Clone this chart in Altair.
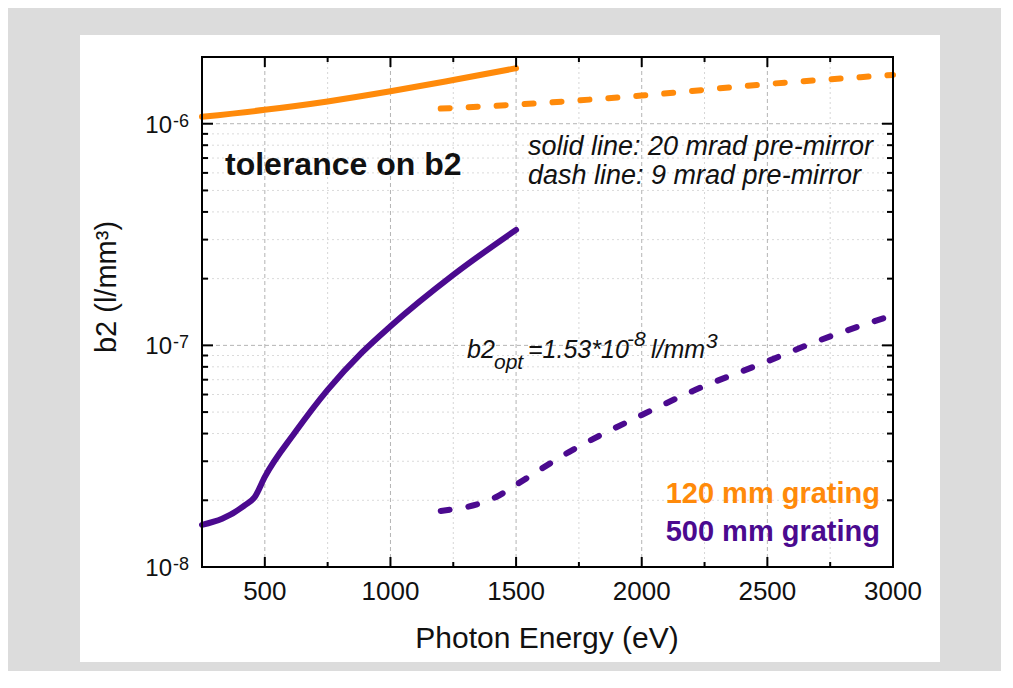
import altair as alt
import pandas as pd

# ---------------- data ----------------
E_ORANGE_SOLID = [250, 500, 750, 1000, 1250, 1500]
B2_ORANGE_SOLID = [1.075e-6, 1.155e-6, 1.26e-6, 1.40e-6, 1.575e-6, 1.78e-6]

E_ORANGE_DASH = [1200, 1500, 2000, 2500, 3000]
B2_ORANGE_DASH = [1.17e-6, 1.22e-6, 1.34e-6, 1.51e-6, 1.66e-6]

E_PURPLE_SOLID = [250, 330, 421, 460, 500, 619, 750, 885, 1000, 1250, 1500]
B2_PURPLE_SOLID = [1.55e-8, 1.65e-8, 1.9e-8, 2.07e-8, 2.55e-8, 4.03e-8, 6.3e-8,
                   9.25e-8, 1.22e-7, 2.08e-7, 3.32e-7]

E_PURPLE_DASH = [1200, 1421, 1500, 1710, 2000, 2214, 2492, 2675, 3000]
B2_PURPLE_DASH = [1.79e-8, 2.07e-8, 2.35e-8, 3.3e-8, 4.85e-8, 6.3e-8, 8.4e-8, 1.02e-7, 1.37e-7]

X_MAJOR = [500, 1000, 1500, 2000, 2500]
X_MINOR = [750, 1250, 1750, 2250, 2750]
X_LABELS = [500, 1000, 1500, 2000, 2500, 3000]
Y_MAJOR = [1e-8, 1e-7, 1e-6]
Y_MINOR = [2e-8, 3e-8, 4e-8, 5e-8, 6e-8, 7e-8, 8e-8, 9e-8,
           2e-7, 3e-7, 4e-7, 5e-7, 6e-7, 7e-7, 8e-7, 9e-7]
Y_EXPONENTS = ["-8", "-7", "-6"]

ORANGE = "#ff8a0a"
PURPLE = "#4b0a8f"
FONT = "Liberation Sans"

W, H = 691, 510
xs = alt.Scale(domain=[250, 3000], nice=False, zero=False)
ys = alt.Scale(type="log", domain=[1e-8, 2e-6], nice=False)

one = alt.Data(values=[{"k": 0}])

# white panel behind everything
panel = alt.Chart(one).mark_rect(color="white").encode(
    x=alt.value(-122), x2=alt.value(738), y=alt.value(-22), y2=alt.value(605)
)

xgrid_major = alt.Chart(pd.DataFrame({"v": X_MAJOR})).mark_rule(
    color="#b4b4b4", strokeWidth=1, strokeDash=[4, 3]
).encode(x=alt.X("v:Q", scale=xs, axis=None), y=alt.value(0), y2=alt.value(H))
xgrid_minor = alt.Chart(pd.DataFrame({"v": X_MINOR})).mark_rule(
    color="#d6d6d6", strokeWidth=1, strokeDash=[2, 3]
).encode(x=alt.X("v:Q", scale=xs, axis=None), y=alt.value(0), y2=alt.value(H))
ygrid_major = alt.Chart(pd.DataFrame({"v": Y_MAJOR})).mark_rule(
    color="#b4b4b4", strokeWidth=1, strokeDash=[4, 3]
).encode(y=alt.Y("v:Q", scale=ys, axis=None), x=alt.value(0), x2=alt.value(W))
ygrid_minor = alt.Chart(pd.DataFrame({"v": Y_MINOR})).mark_rule(
    color="#dadada", strokeWidth=1, strokeDash=[2, 3]
).encode(y=alt.Y("v:Q", scale=ys, axis=None), x=alt.value(0), x2=alt.value(W))


def curve(e, b, color, dashed):
    df = pd.DataFrame({"E": e, "b2": b})
    kw = dict(color=color, strokeWidth=6, interpolate="monotone", strokeCap="round")
    if dashed:
        kw["strokeDash"] = [9, 19]
    return alt.Chart(df).mark_line(**kw).encode(
        x=alt.X("E:Q", scale=xs, axis=None),
        y=alt.Y("b2:Q", scale=ys, axis=None),
    )


lines = [
    curve(E_ORANGE_SOLID, B2_ORANGE_SOLID, ORANGE, False),
    curve(E_ORANGE_DASH, B2_ORANGE_DASH, ORANGE, True),
    curve(E_PURPLE_SOLID, B2_PURPLE_SOLID, PURPLE, False),
    curve(E_PURPLE_DASH, B2_PURPLE_DASH, PURPLE, True),
]

# ticks (inward)
def xticks(vals, length):
    d = pd.DataFrame({"v": vals})
    b = alt.Chart(d).mark_rule(color="black", strokeWidth=2).encode(
        x=alt.X("v:Q", scale=xs, axis=None), y=alt.value(H), y2=alt.value(H - length))
    t = alt.Chart(d).mark_rule(color="black", strokeWidth=2).encode(
        x=alt.X("v:Q", scale=xs, axis=None), y=alt.value(0), y2=alt.value(length))
    return [b, t]


def yticks(vals, length):
    d = pd.DataFrame({"v": vals})
    l = alt.Chart(d).mark_rule(color="black", strokeWidth=2).encode(
        y=alt.Y("v:Q", scale=ys, axis=None), x=alt.value(0), x2=alt.value(length))
    r = alt.Chart(d).mark_rule(color="black", strokeWidth=2).encode(
        y=alt.Y("v:Q", scale=ys, axis=None), x=alt.value(W), x2=alt.value(W - length))
    return [l, r]


ticks = xticks(X_MAJOR, 10) + xticks(X_MINOR, 5) + yticks(Y_MAJOR, 11) + yticks(Y_MINOR, 6)

frame = alt.Chart(one).mark_rect(fill=None, stroke="black", strokeWidth=2, filled=False).encode(
    x=alt.value(0), x2=alt.value(W), y=alt.value(0), y2=alt.value(H)
)

# axis labels
xlab = alt.Chart(pd.DataFrame({"v": X_LABELS})).mark_text(
    font=FONT, fontSize=26, color="#111", baseline="alphabetic", align="center"
).encode(x=alt.X("v:Q", scale=xs, axis=None), y=alt.value(543), text=alt.Text("v:Q", format="d"))

ydf = pd.DataFrame({"v": Y_MAJOR, "ex": Y_EXPONENTS})
ylab10 = alt.Chart(ydf).mark_text(
    font=FONT, fontSize=24, color="#111", baseline="alphabetic", align="right", dy=9
).encode(y=alt.Y("v:Q", scale=ys, axis=None), x=alt.value(-30), text=alt.value("10"))
ylabexp = alt.Chart(ydf).mark_text(
    font=FONT, fontSize=18, color="#111", baseline="alphabetic", align="left", dy=3
).encode(y=alt.Y("v:Q", scale=ys, axis=None), x=alt.value(-29), text="ex:N")


def label(txt, x, y, size, color="#111", weight="normal", style="normal", align="left", angle=0):
    kw = dict(font=FONT, fontSize=size, color=color, fontWeight=weight, fontStyle=style,
              align=align, baseline="alphabetic")
    if angle:
        kw["angle"] = angle
        kw["baseline"] = "middle"
    return alt.Chart(one).mark_text(**kw).encode(
        x=alt.value(x), y=alt.value(y), text=alt.value(txt))


texts = [
    label("Photon Energy (eV)", 345, 591, 30, align="center"),
    label("b2 (l/mm³)", -95, 230, 29, align="center", angle=270),
    label("tolerance on b2", 23, 118, 32, weight="bold"),
    label("solid line: 20 mrad pre-mirror", 326, 98, 27, style="italic"),
    label("dash line: 9 mrad pre-mirror", 326, 127, 27, style="italic"),
    label("b2", 265, 301, 25, style="italic"),
    label("opt", 292, 312, 21, style="italic"),
    label("=1.53*10", 326, 301, 25, style="italic"),
    label("-8", 425, 289, 21, style="italic"),
    label("l/mm", 449, 301, 25, style="italic"),
    label("3", 504, 291, 21, style="italic"),
    label("120 mm grating", 678, 446, 29, color=ORANGE, weight="bold", align="right"),
    label("500 mm grating", 678, 484, 29, color=PURPLE, weight="bold", align="right"),
]

chart = alt.layer(
    panel, ygrid_minor, xgrid_minor, ygrid_major, xgrid_major,
    *lines, *ticks, frame, xlab, ylab10, ylabexp, *texts
).properties(
    width=W, height=H,
    autosize=alt.AutoSizeParams(type="none"),
    padding={"left": 194, "top": 49, "right": 108, "bottom": 104},
    background="#dcdcdc",
).configure_view(stroke=None)

chart.save("out.html", embed_options={"renderer": "svg", "actions": False})
